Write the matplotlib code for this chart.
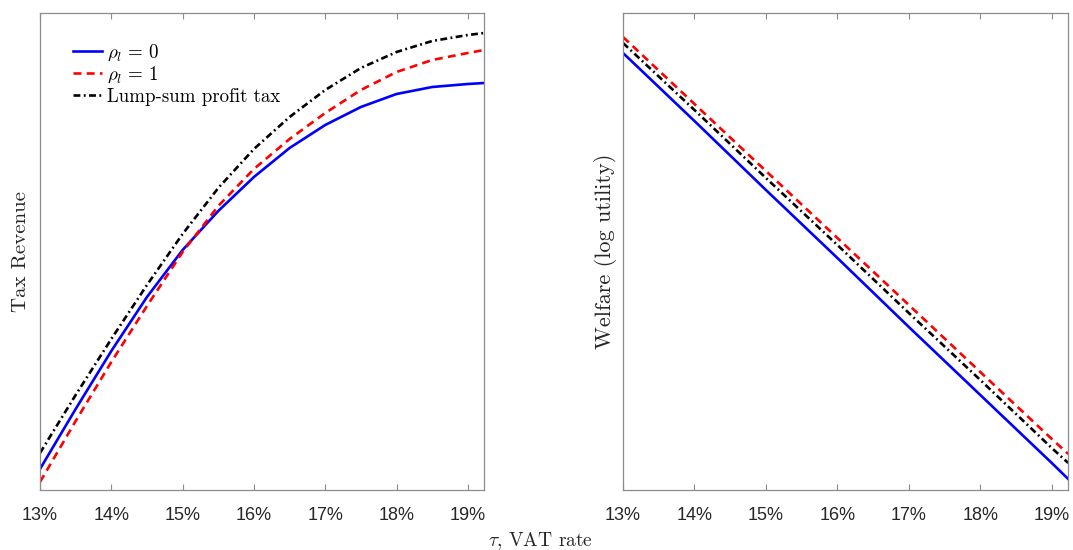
import matplotlib
matplotlib.use("Agg")
import matplotlib.pyplot as plt
from matplotlib.ticker import FuncFormatter

plt.rcParams['mathtext.fontset'] = 'cm'

# VAT rate (%) grid
tau_left = [13.0, 13.5, 14.0, 14.5, 15.0, 15.5, 16.0, 16.5, 17.0, 17.5, 18.0, 18.5, 19.0, 19.23]
tau_right = [13.0, 14.0, 15.0, 16.0, 17.0, 18.0, 19.0, 19.23]

# Tax revenue (arbitrary units)
rev_rho0 = [21, 81, 139, 193, 240, 279, 313, 342, 365, 383, 396, 403, 406, 407]
rev_rho1 = [8, 69, 128, 184, 238, 284, 321, 351, 377, 400, 418, 430, 437, 440]
rev_lump = [37, 95, 151, 205, 256, 302, 341, 373, 400, 422, 438, 449, 455, 457]

# Welfare (log utility, arbitrary units)
wel_rho0 = [437, 369, 300, 232, 163, 95, 27, 11]
wel_rho1 = [453, 386, 319, 252, 185, 118, 51, 36]
wel_lump = [447, 380, 312, 245, 177, 110, 42, 27]

labels = [r'$\rho_l\,=\,0$', r'$\rho_l\,=\,1$', 'Lump-sum profit tax']
xticks = [13, 14, 15, 16, 17, 18, 19]

fig = plt.figure(figsize=(10.73, 5.5), dpi=100)
axL = fig.add_axes([40/1073, 60/550, 444/1073, 477/550])
axR = fig.add_axes([623/1073, 60/550, 445/1073, 477/550])

lw = 1.9
styles = [
    dict(color='#0000ff', linestyle='-', linewidth=lw),
    dict(color='#ff0000', linestyle=(0, (3.0, 2.0)), linewidth=lw),
    dict(color='#000000', linestyle=(0, (2.6, 1.3, 0.7, 1.3)), linewidth=lw),
]

for ax, x, series in [(axL, tau_left, [rev_rho0, rev_rho1, rev_lump]),
                      (axR, tau_right, [wel_rho0, wel_rho1, wel_lump])]:
    for s, st, lab in zip(series, styles, labels):
        ax.plot(x, s, label=lab, **st)
    ax.set_xlim(13.0, 19.227)
    ax.set_ylim(0, 477)
    ax.set_xticks(xticks)
    ax.xaxis.set_major_formatter(FuncFormatter(lambda v, p: f'{v:.0f}%'))
    ax.set_yticks([])
    ax.tick_params(axis='x', direction='in', top=True, length=4, width=0.8,
                   color='#8c8c8c', pad=12, labelsize=13, labelcolor='#262626')
    for lbl in ax.get_xticklabels():
        lbl.set_fontfamily('Liberation Sans')
    for sp in ax.spines.values():
        sp.set_color('#8c8c8c')
        sp.set_linewidth(0.9)

leg = axL.legend(loc='upper left', bbox_to_anchor=(0.074, 0.939), frameon=False,
                 fontsize=13.6, handlelength=1.55, handletextpad=0.25,
                 labelspacing=0.12, borderpad=0, borderaxespad=0)
for t in leg.get_texts():
    t.set_fontfamily('cmr10')

axL.set_ylabel('Tax Revenue', fontfamily='cmr10', fontsize=15, color='#262626', labelpad=7)
axR.set_ylabel('Welfare (log utility)', fontfamily='cmr10', fontsize=16, color='#262626', labelpad=4)

fig.text(540/1073, 1 - 541/550, r'$\tau$, VAT rate', ha='center', va='center',
         fontfamily='cmr10', fontsize=14, color='#262626')

fig.savefig('out.png', dpi=100)
